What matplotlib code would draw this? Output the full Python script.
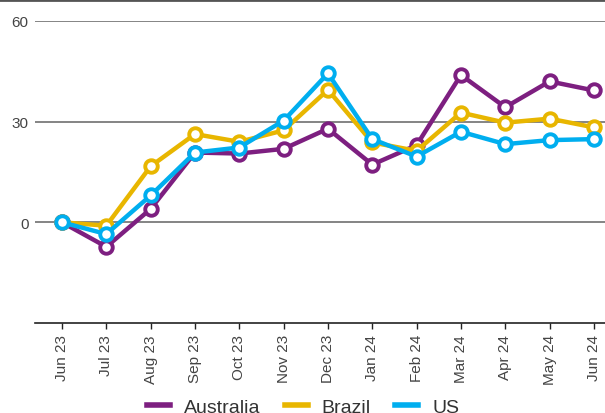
import matplotlib
matplotlib.use("Agg")
import matplotlib.pyplot as plt
from matplotlib.lines import Line2D

plt.rcParams['font.family'] = ['Liberation Sans', 'DejaVu Sans']

months = ["Jun 23", "Jul 23", "Aug 23", "Sep 23", "Oct 23", "Nov 23", "Dec 23",
          "Jan 24", "Feb 24", "Mar 24", "Apr 24", "May 24", "Jun 24"]
australia = [0, -7.3, 4.0, 20.8, 20.5, 21.9, 27.9, 17.2, 23.0, 43.9, 34.3, 42.0, 39.3]
brazil = [0, -1.0, 16.7, 26.3, 24.0, 27.4, 39.5, 23.8, 21.3, 32.7, 29.7, 30.9, 28.3]
us = [0, -3.5, 8.0, 20.8, 22.3, 30.3, 44.4, 24.8, 19.6, 27.0, 23.3, 24.5, 24.8]
yticks = [0, 30, 60]

series = [("Australia", australia, "#7D1F80"),
          ("Brazil", brazil, "#E8B600"),
          ("US", us, "#00AEEF")]

W, H = 605, 414
fig = plt.figure(figsize=(W / 100, H / 100), dpi=100)
ax = fig.add_axes([35 / W, 1 - 324 / H, (605 - 35) / W, (324 - 22) / H])

x = list(range(len(months)))
for name, vals, col in series:
    ax.plot(x, vals, color=col, lw=3.2, marker='o', ms=9, mfc='white',
            mec=col, mew=2.8, label=name, zorder=3, solid_joinstyle='round')

ax.set_xlim(-0.609, 12.25)
ax.set_ylim(-30, 60)
ax.set_yticks(yticks)
ax.set_yticklabels([str(v) for v in yticks])
for v in yticks:
    ax.axhline(v, color='#707070', lw=1.2, zorder=1)
for s in ['top', 'right', 'left']:
    ax.spines[s].set_visible(False)
ax.spines['bottom'].set_color('#222222')
ax.spines['bottom'].set_linewidth(1.2)
ax.tick_params(axis='y', length=0, pad=4.5, labelsize=11, labelcolor='#444444')
ax.set_xticks(x)
ax.set_xticklabels(months, rotation=90)
ax.tick_params(axis='x', length=4, width=1, color='#222222', pad=4,
               labelsize=11, labelcolor='#444444')

fig.add_artist(Line2D([0, 1], [1 - 0.8 / H, 1 - 0.8 / H], color='#555555', lw=2))

handles = [Line2D([0], [0], color=c, lw=4) for _, _, c in series]
fig.legend(handles, [n for n, _, _ in series], loc='center',
           bbox_to_anchor=(303 / W, 1 - 408 / H), ncol=3, frameon=False,
           fontsize=14, handlelength=1.2, columnspacing=1.25, handletextpad=0.7,
           labelcolor='#333333', borderpad=0)

fig.savefig("out.png", dpi=100)
